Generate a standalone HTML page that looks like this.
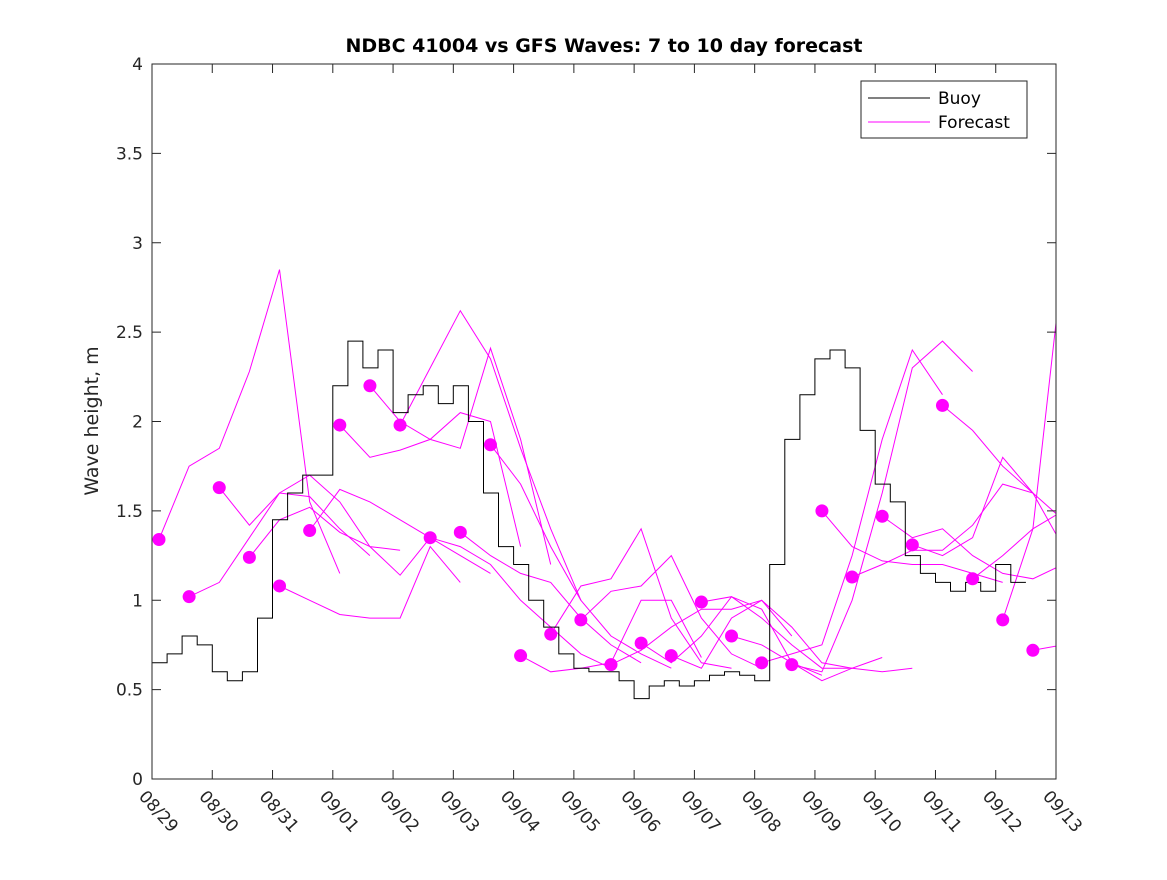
<!DOCTYPE html>
<html><head><meta charset="utf-8"><style>
body{margin:0;background:#fff;font-family:"Liberation Sans","DejaVu Sans",sans-serif}
svg text{font-family:"DejaVu Sans","Liberation Sans",sans-serif}
</style></head><body>
<svg id="chart" width="1167" height="875" xmlns="http://www.w3.org/2000/svg">
<rect width="1167" height="875" fill="#fff"/>
<g id="plot"></g>
</svg>
<script>
const dateLabels = ["08/29","08/30","08/31","09/01","09/02","09/03","09/04","09/05","09/06","09/07","09/08","09/09","09/10","09/11","09/12","09/13"];
const yTicks = [0,0.5,1,1.5,2,2.5,3,3.5,4];
// buoy: 6-hour steps from 08/29 00h
const buoyValues = [0.65,0.70,0.80,0.75,0.60,0.55,0.60,0.90,1.45,1.60,1.70,1.70,2.20,2.45,2.30,2.40,2.05,2.15,2.20,2.10,2.20,2.00,1.60,1.30,1.20,1.00,0.85,0.70,0.62,0.60,0.60,0.55,0.45,0.52,0.55,0.52,0.55,0.58,0.60,0.58,0.55,1.20,1.90,2.15,2.35,2.40,2.30,1.95,1.65,1.55,1.25,1.15,1.10,1.05,1.10,1.05,1.20,1.10];
// forecasts: start day offsets; each has 7 points at 12h steps
const forecastStarts = [0.116,0.616,1.116,1.616,2.116,2.616,3.116,3.616,4.116,4.616,5.116,5.616,6.116,6.616,7.116,7.616,8.116,8.616,9.116,9.616,10.116,10.616,11.116,11.616,12.116,12.616,13.116,13.616,14.116,14.616];
const forecastValues = [
[1.34,1.75,1.85,2.28,2.85,1.55,1.15],
[1.02,1.10,1.35,1.60,1.58,1.40,1.25],
[1.63,1.42,1.60,1.70,1.55,1.30,1.28],
[1.24,1.45,1.52,1.38,1.30,1.14,1.35],
[1.08,1.00,0.92,0.90,0.90,1.30,1.10],
[1.39,1.62,1.55,1.45,1.35,1.25,1.15],
[1.98,1.80,1.84,1.90,2.05,2.00,1.30],
[2.20,2.00,1.90,1.85,2.41,1.90,1.20],
[1.98,2.30,2.62,2.35,1.85,1.40,1.00],
[1.35,1.30,1.20,1.00,0.85,0.70,0.62],
[1.38,1.25,1.15,1.10,0.90,0.75,0.65],
[1.87,1.65,1.30,1.00,0.80,0.70,0.62],
[0.69,0.60,0.62,0.65,1.00,1.00,0.68],
[0.81,1.08,1.12,1.40,0.90,0.65,0.62],
[0.89,1.05,1.08,1.25,0.90,0.70,0.62],
[0.64,0.72,0.85,0.95,0.95,1.00,0.80],
[0.76,0.65,0.80,1.02,0.95,0.65,0.58],
[0.69,0.62,0.90,1.00,0.85,0.65,0.62],
[0.99,1.02,0.90,0.75,0.62,0.62,0.68],
[0.80,0.75,0.65,0.55,0.62,0.60,0.62],
[0.65,0.70,0.75,1.25,1.90,2.40,2.15],
[0.64,0.60,1.00,1.60,2.30,2.45,2.28],
[1.50,1.30,1.22,1.20,1.20,1.15,1.10],
[1.13,1.20,1.28,1.28,1.42,1.65,1.60],
[1.47,1.35,1.40,1.25,1.15,1.12,1.20],
[1.31,1.25,1.35,1.80,1.60,1.45,1.80],
[2.09,1.95,1.75,1.60,1.30,1.05,0.85],
[1.12,1.25,1.40,1.50,1.75,1.85,1.95],
[0.89,1.40,2.90,2.90,2.90,2.90,2.90],
[0.72,0.75,0.75,0.80,1.00,1.50,2.00]
];
const X0=152,X1=1056,Y0=779,Y1=64;
const xs=d=>X0+d*(X1-X0)/15;
const ys=v=>Y0-v*(Y0-Y1)/4;
const NS="http://www.w3.org/2000/svg";
const g=document.getElementById('plot');
function mk(t,a,p){const e=document.createElementNS(NS,t);for(const k in a)e.setAttribute(k,a[k]);(p||g).appendChild(e);return e;}
const defs=mk('defs',{});const cp=mk('clipPath',{id:'pc'},defs);mk('rect',{x:X0,y:Y1,width:X1-X0,height:Y0-Y1},cp);
const fg=mk('g',{'clip-path':'url(#pc)'});
forecastValues.forEach((vals,i)=>{
  const s=forecastStarts[i];
  const pts=vals.map((v,j)=>xs(s+j*0.5).toFixed(1)+','+ys(v).toFixed(1)).join(' ');
  const l=mk('polyline',{points:pts,fill:'none',stroke:'#ff00ff','stroke-width':1},fg);
  
  
});
let bp='';
buoyValues.forEach((v,i)=>{const x1=xs(i*0.25),x2=xs((i+1)*0.25),y=ys(v);bp+=(i?'L':'M')+x1.toFixed(1)+','+y.toFixed(1)+'L'+x2.toFixed(1)+','+y.toFixed(1);});
const b=mk('path',{d:bp,fill:'none',stroke:'#000','stroke-width':1},fg);


forecastValues.forEach((vals,i)=>{
  const c=mk('circle',{cx:xs(forecastStarts[i]),cy:ys(vals[0]),r:6.5,fill:'#ff00ff'},fg);
  
  
});
const box=mk('rect',{x:X0,y:Y1,width:X1-X0,height:Y0-Y1,fill:'none',stroke:'#262626','stroke-width':1});


yTicks.forEach(v=>{
  const y=ys(v);
  mk('line',{x1:X0,x2:X0+9,y1:y,y2:y,stroke:'#262626'});
  mk('line',{x1:X1,x2:X1-9,y1:y,y2:y,stroke:'#262626'});
  const t=mk('text',{x:X0-9,y:y+6,'text-anchor':'end','font-size':17,fill:'#262626'});
  t.textContent=String(v);
  
  
});
dateLabels.forEach((d,i)=>{
  const x=xs(i);
  mk('line',{x1:x,x2:x,y1:Y0,y2:Y0-9,stroke:'#262626'});
  mk('line',{x1:x,x2:x,y1:Y1,y2:Y1+9,stroke:'#262626'});
  const t=mk('text',{x:x-14,y:Y0+18,'font-size':17,fill:'#262626',transform:`rotate(48 ${x-14} ${Y0+18})`});
  t.textContent=d;
  
  
});
const ti=mk('text',{x:604,y:52,'text-anchor':'middle','font-size':19,'font-weight':'bold',fill:'#000'});
ti.textContent='NDBC 41004 vs GFS Waves: 7 to 10 day forecast';


const yl=mk('text',{x:98,y:421,'text-anchor':'middle','font-size':19,fill:'#262626',transform:'rotate(-90 98 421)'});
yl.textContent='Wave height, m';


const lg=mk('g',{});


mk('rect',{x:861,y:81,width:166,height:57,fill:'#fff',stroke:'#262626'},lg);
mk('line',{x1:868,x2:930,y1:98,y2:98,stroke:'#000'},lg);
mk('line',{x1:868,x2:930,y1:122,y2:122,stroke:'#ff00ff'},lg);
const l1=mk('text',{x:938,y:104,'font-size':17,fill:'#000'},lg);l1.textContent='Buoy';


const l2=mk('text',{x:938,y:128,'font-size':17,fill:'#000'},lg);l2.textContent='Forecast';


</script>
</body></html>
